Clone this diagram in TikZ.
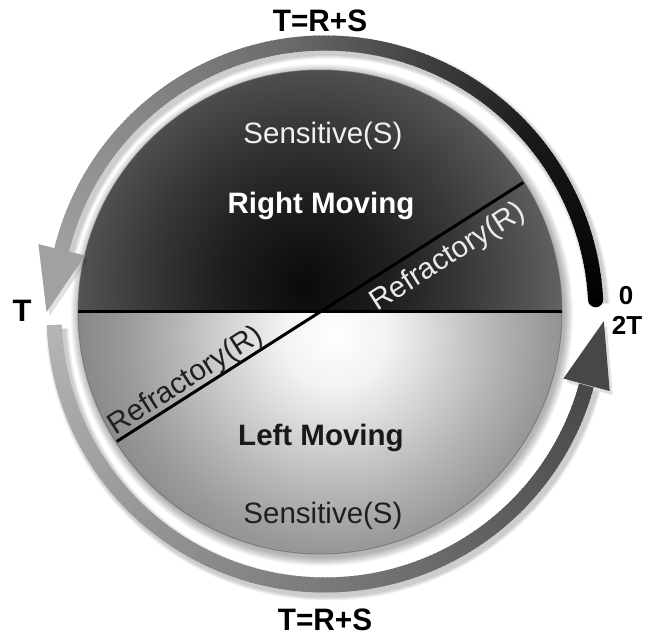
\documentclass[tikz,border=0pt]{standalone}
\usepackage{fontspec}
\setmainfont{Liberation Sans}
\usetikzlibrary{calc}
\definecolor{tA}{gray}{0.04}
\definecolor{tB}{gray}{0.12}
\definecolor{tC}{gray}{0.22}
\definecolor{tD}{gray}{0.32}
\definecolor{tE}{gray}{0.40}
\definecolor{bA}{gray}{1.0}
\definecolor{bB}{gray}{0.95}
\definecolor{bC}{gray}{0.83}
\definecolor{bD}{gray}{0.71}
\definecolor{bE}{gray}{0.60}
\definecolor{bF}{gray}{0.52}
\pgfdeclareradialshading{topdark}{\pgfpoint{0bp}{0bp}}{color(0bp)=(tA); color(8bp)=(tB); color(15bp)=(tC); color(21bp)=(tD); color(25bp)=(tE); color(50bp)=(tE)}
\pgfdeclareradialshading{botlight}{\pgfpoint{0bp}{0bp}}{color(0bp)=(bA); color(5bp)=(bB); color(10bp)=(bC); color(15bp)=(bD); color(20bp)=(bE); color(25bp)=(bF); color(50bp)=(bF)}
\begin{document}
\begin{tikzpicture}[x=1pt,y=-1pt,
  lbl/.style={inner sep=0pt, anchor=base, font=\bfseries\fontsize{31}{32}\selectfont},
  lblsmall/.style={inner sep=0pt, anchor=base, font=\bfseries\fontsize{26}{27}\selectfont},
  intext/.style={inner sep=0pt, anchor=base, font=\fontsize{29.5}{30}\selectfont},
  inbold/.style={inner sep=0pt, anchor=base, font=\bfseries\fontsize{29.5}{30}\selectfont},
  divider/.style={line width=3pt, black},
  band/.style={line width=15pt}]
\useasboundingbox (0,0) rectangle (654,636);
\fill[white] (0,0) rectangle (654,636);
\def\R{271}
\coordinate (O) at (320,312);
\coordinate (C) at (325,314);
% disc shadow halo
\foreach \i in {1,...,9} \fill[black,opacity=0.035] ($(O)+(2,3)$) circle ({242+\i});
% top half
\begin{scope}
  \clip (O) circle (242);
  \clip (0,0) rectangle (654,312);
  \shade[shading=topdark] (305,285) circle (265);
\end{scope}
% bottom half
\begin{scope}
  \clip (O) circle (242);
  \clip (0,312) rectangle (654,636);
  \shade[shading=botlight] (335,335) circle (265);
\end{scope}
\draw[black!60, line width=1pt, opacity=0.6] (O) circle (242);
% dividers
\coordinate (HL) at (78,312);
\coordinate (HR) at (562,312);
\coordinate (DU) at ($(O)+(-32.5:241)$);
\coordinate (DL) at ($(O)+(-212.5:241)$);
\draw[divider] (HL) -- (HR);
\draw[divider] (DL) -- (DU);
% arc shadows
\foreach \i in {1,...,4} {
  \draw[line width={(15+2*\i)*1pt}, black, opacity=0.05] ($(C)+(3,4)+(-3:\R)$) arc[start angle=-3, end angle=-166.3, radius=\R];
  \draw[line width={(15+2*\i)*1pt}, black, opacity=0.05] ($(C)+(3,4)+(-182.3:\R)$) arc[start angle=-182.3, end angle=-344.85, radius=\R];
}
% arrowhead positions
\coordinate (LB) at ($(C)+(-166.3:\R)$);
\coordinate (RB) at ($(C)+(-344.85:\R)$);
\coordinate (LT) at ($(LB)+(-256.3:64)$);
\coordinate (LO) at ($(LB)+(-166.3:24)$);
\coordinate (LI) at ($(LB)+(13.7:24)$);
\coordinate (RT) at ($(RB)+(-74.85:66)$);
\coordinate (RO) at ($(RB)+(-344.85:24)$);
\coordinate (RI) at ($(RB)+(-164.85:24)$);
\fill[black,opacity=0.12] ($(LO)+(3,4)$) -- ($(LT)+(3,4)$) -- ($(LI)+(3,4)$) -- cycle;
\fill[black,opacity=0.12] ($(RO)+(3,4)$) -- ($(RT)+(3,4)$) -- ($(RI)+(3,4)$) -- cycle;
% top arc (0 -> T), gradient black to light grey
\fill[black] ($(C)+(-3:\R)$) circle (7.5);
\foreach \a in {3,4,...,165} {
  \pgfmathsetmacro\k{\a<40 ? 100-0.25*\a : (\a<100 ? 90-(\a-40)*0.55 : 57-(\a-100)*0.3)}
  \draw[band, draw=black!\k] ($(C)+(-\a:\R)$) arc[start angle=-\a, end angle={-\a-1.4}, radius=\R];
}
\fill[black!37] (LO) -- (LT) -- (LI) -- cycle;
% bottom arc (T -> 2T), gradient light to dark grey
\foreach \a in {182.3,183.3,...,343.8} {
  \pgfmathsetmacro\k{29+(\a-182)*43/163}
  \draw[band, draw=black!\k] ($(C)+(-\a:\R)$) arc[start angle=-\a, end angle={-\a-1.4}, radius=\R];
}
\fill[black!72] (RO) -- (RT) -- (RI) -- cycle;
% labels
\node[lbl, xscale=0.96] (ttop) at (320,32) {T=R+S};
\node[lbl, xscale=0.96] (tbot) at (325,630) {T=R+S};
\node[lbl] (tleft) at (22,322) {T};
\node[lblsmall] (zero) at (626,305) {0};
\node[lblsmall] (twoT) at (627,335) {2T};
% inner texts
\node[intext, text=white!94!black] (sens1) at (323,144) {Sensitive(S)};
\node[inbold, text=white] (rmov) at (321,214) {Right Moving};
\node[inbold, text=black!90] (lmov) at (321,446) {Left Moving};
\node[intext, text=black!88] (sens2) at (323,523) {Sensitive(S)};
\node[intext, text=white!92!black, rotate=32.5] (ref1) at (452,264) {Refractory(R)};
\node[intext, text=black!88, rotate=32.5] (ref2) at (190,387.5) {Refractory(R)};
\end{tikzpicture}
\end{document}
